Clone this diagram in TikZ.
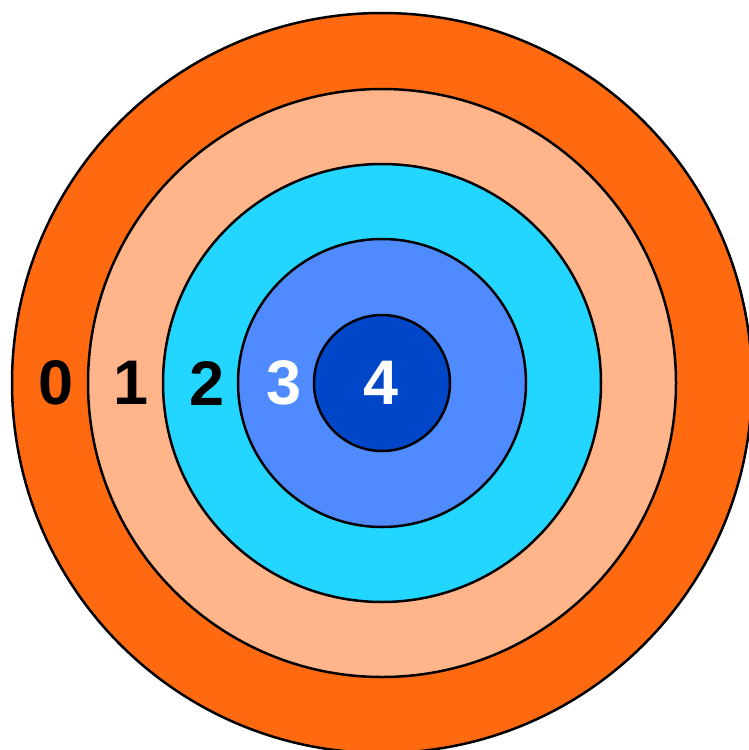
\documentclass[tikz,border=0pt]{standalone}
\usepackage{fontspec}
\setmainfont{Liberation Sans}
\definecolor{c0}{HTML}{FF6A10}
\definecolor{c1}{HTML}{FFB589}
\definecolor{c2}{HTML}{22D6FF}
\definecolor{c3}{HTML}{4F8BFF}
\definecolor{c4}{HTML}{0046C8}
\tikzset{ring/.style={draw=black, line width=2.5pt, circle, inner sep=0pt},
  lbl/.style={font=\fontsize{63}{63}\selectfont\bfseries, inner sep=0pt}}
\begin{document}
\begin{tikzpicture}[x=1pt,y=-1pt]
\useasboundingbox (0,0) rectangle (749,750);
\begin{scope}
\clip (0,0) rectangle (749,750);
\node[ring, fill=c0, minimum size=740pt] (r0) at (382,383) {};
\node[ring, fill=c1, minimum size=588pt] (r1) at (382,383) {};
\node[ring, fill=c2, minimum size=438pt] (r2) at (382,383) {};
\node[ring, fill=c3, minimum size=288pt] (r3) at (382,383) {};
\node[ring, fill=c4, minimum size=136pt] (r4) at (382,383) {};
\end{scope}
\node[lbl, text=black] (l0) at (56,383) {0};
\node[lbl, text=black] (l1) at (131,383) {1};
\node[lbl, text=black] (l2) at (207,383) {2};
\node[lbl, text=white] (l3) at (284,383) {3};
\node[lbl, text=white] (l4) at (381,383) {4};
\end{tikzpicture}
\end{document}
